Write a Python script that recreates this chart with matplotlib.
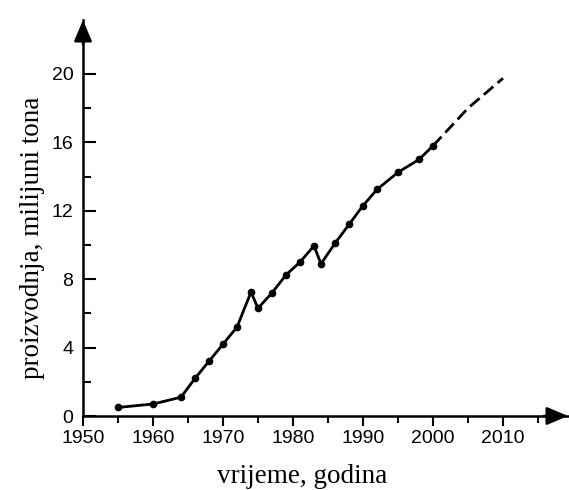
import matplotlib
matplotlib.use("Agg")
import matplotlib.pyplot as plt
from matplotlib.ticker import MultipleLocator

# measured data (solid part)
years = [1955, 1960, 1964, 1966, 1968, 1970, 1972, 1974, 1975, 1977, 1979, 1981,
         1983, 1984, 1986, 1988, 1990, 1992, 1995, 1998, 2000]
prod = [0.5, 0.7, 1.1, 2.2, 3.2, 4.2, 5.2, 7.25, 6.3, 7.2, 8.25, 9.0,
        9.95, 8.9, 10.1, 11.2, 12.3, 13.25, 14.25, 15.0, 15.8]
# projected (dashed) part
proj_years = [2000, 2005, 2010]
proj_prod = [15.8, 18.0, 19.75]

x_ticks = [1950, 1960, 1970, 1980, 1990, 2000, 2010]
y_ticks = [0, 4, 8, 12, 16, 20]

fig = plt.figure(figsize=(5.69, 4.9), dpi=100)
ax = fig.add_axes([83/569, 74/490, 485/569, 396/490])

ax.plot(years, prod, color="black", lw=2.0, marker="o", markersize=4.5,
        solid_joinstyle="round", clip_on=False)
ax.plot(proj_years, proj_prod, color="black", lw=2.0, linestyle=(0, (4.5, 2)),
        clip_on=False)

ax.set_xlim(1950, 1950 + 485/7.0)
ax.set_ylim(0, 396/17.1)

for s in ["top", "right"]:
    ax.spines[s].set_visible(False)
for s in ["left", "bottom"]:
    ax.spines[s].set_linewidth(1.8)

ax.set_xticks(x_ticks)
ax.xaxis.set_minor_locator(MultipleLocator(5))
ax.set_yticks(y_ticks)
ax.yaxis.set_minor_locator(MultipleLocator(2))

ax.tick_params(axis="x", which="major", direction="out", length=7, width=1.5,
               pad=3, labelsize=14)
ax.tick_params(axis="x", which="minor", direction="out", length=5, width=1.5)
ax.tick_params(axis="y", which="major", direction="in", length=9, width=1.5,
               pad=7, labelsize=14)
ax.tick_params(axis="y", which="minor", direction="in", length=6, width=1.5)
for lab in ax.get_xticklabels() + ax.get_yticklabels():
    lab.set_fontfamily("Liberation Sans")

# arrow heads
ax.annotate("", xy=(1.0, 0), xytext=(0.95, 0), xycoords="axes fraction",
            arrowprops=dict(arrowstyle="-|>,head_length=1.3,head_width=0.55",
                            color="black", lw=1.8, shrinkA=0, shrinkB=0),
            annotation_clip=False)
ax.annotate("", xy=(0, 1.0), xytext=(0, 0.94), xycoords="axes fraction",
            arrowprops=dict(arrowstyle="-|>,head_length=1.3,head_width=0.55",
                            color="black", lw=1.8, shrinkA=0, shrinkB=0),
            annotation_clip=False)

fig.text(302/569, 1 - 476/490, "vrijeme, godina", ha="center", va="center",
         fontsize=19.5, family="Liberation Serif")
fig.text(33/569, 1 - 238/490, "proizvodnja, milijuni tona", ha="center",
         va="center", rotation=90, fontsize=19.5, family="Liberation Serif")

fig.savefig("out.png", dpi=100)
